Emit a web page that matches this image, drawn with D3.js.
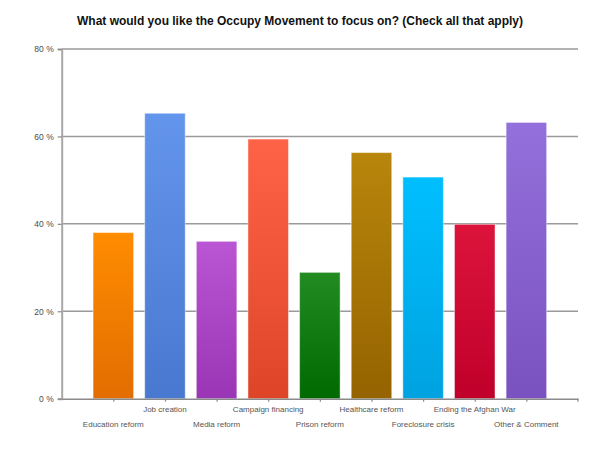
<!DOCTYPE html>
<html>
<head>
<meta charset="utf-8">
<title>Occupy Movement focus</title>
<script src="https://cdn.jsdelivr.net/npm/d3@7"></script>
<style>
  html, body { margin: 0; padding: 0; background: #ffffff; }
  #chart { width: 600px; height: 451px; }
</style>
</head>
<body>
<div id="chart"></div>
<script>
// Survey answers, percent of respondents
var categories = ['Education reform', 'Job creation', 'Media reform', 'Campaign financing', 'Prison reform',
  'Healthcare reform', 'Foreclosure crisis', 'Ending the Afghan War', 'Other & Comment'];
var values = [38.0, 65.3, 36.0, 59.4, 28.9, 56.3, 50.7, 39.9, 63.2];
var yTicks = [0, 20, 40, 60, 80];
// bar gradient colours, top -> bottom
var topColors = ['#ff8c00', '#6495ed', '#ba55d3', '#ff6347', '#228b22', '#b8860b', '#00bfff', '#dc143c', '#9370db'];
var bottomColors = ['#e36d00', '#4878d0', '#9a35b5', '#de4528', '#006a00', '#956300', '#00a2e0', '#c0002a', '#7a52c0'];

(function(){
  var W = 600, H = 451;
  var margin = { top: 49, right: 22, bottom: 52.3, left: 61.7 };
  var width = W - margin.left - margin.right;
  var height = H - margin.top - margin.bottom;
  var font = '"Liberation Sans", Arial, sans-serif';

  var svg = d3.select('#chart').append('svg')
    .attr('width', W)
    .attr('height', H)
    .style('font-family', font);

  var g = svg.append('g').attr('transform', 'translate(' + margin.left + ',' + margin.top + ')');

  // half a step of empty room at each end, like the original
  var x = d3.scalePoint().domain(categories).range([0, width]).padding(1);
  var y = d3.scaleLinear().domain([0, 80]).range([height, 0]);
  var barW = x.step() * 0.785;

  var rows = categories.map(function(c, i){ return { cat: c, val: values[i], top: topColors[i], bottom: bottomColors[i], i: i }; });

  // Gradients
  var defs = svg.append('defs');
  rows.forEach(function(d){
    var grad = defs.append('linearGradient')
      .attr('id', 'grad' + d.i)
      .attr('x1', 0).attr('y1', 0).attr('x2', 0).attr('y2', 1);
    grad.append('stop').attr('offset', '0%').attr('stop-color', d.top);
    grad.append('stop').attr('offset', '100%').attr('stop-color', d.bottom);
  });

  // Title (centred on the whole picture, not the plot)
  svg.append('text')
    .attr('x', W / 2)
    .attr('y', 25)
    .attr('text-anchor', 'middle')
    .style('font-size', '12px')
    .style('font-weight', '700')
    .style('fill', '#111')
    .text('What would you like the Occupy Movement to focus on? (Check all that apply)');

  // Horizontal gridlines
  g.append('g').attr('class', 'grid')
    .selectAll('line')
    .data(yTicks.filter(function(t){ return t > 0; }))
    .enter().append('line')
    .attr('x1', 0).attr('x2', width)
    .attr('y1', function(d){ return y(d); })
    .attr('y2', function(d){ return y(d); })
    .attr('stroke', '#9a9a9a')
    .attr('stroke-width', 1.5);

  // Bars
  g.selectAll('.bar')
    .data(rows)
    .enter().append('rect')
    .attr('class', 'bar')
    .attr('x', function(d){ return x(d.cat) - barW / 2; })
    .attr('y', function(d){ return y(d.val); })
    .attr('width', barW)
    .attr('height', function(d){ return y(0) - y(d.val); })
    .attr('fill', function(d){ return 'url(#grad' + d.i + ')'; })
    .attr('stroke', '#ffffff')
    .attr('stroke-opacity', 0.45)
    .attr('stroke-width', 1);

  // Y axis
  var ay = g.append('g')
    .call(d3.axisLeft(y).tickValues(yTicks).tickSize(4).tickPadding(4).tickFormat(function(d){ return d + ' %'; }));
  ay.select('.domain').attr('stroke', '#a8a8a8').attr('stroke-width', 2);
  ay.selectAll('line').attr('stroke', '#8a8a8a').attr('stroke-width', 1.2);
  ay.selectAll('text').style('font-family', font).style('font-size', '8.5px').style('fill', '#4a4a4a');

  // X axis (ticks only, labels staggered below)
  var ax = g.append('g')
    .attr('transform', 'translate(0,' + height + ')')
    .call(d3.axisBottom(x).tickSize(3).tickSizeOuter(0).tickFormat(''));
  ax.select('.domain').attr('stroke', '#8a8a8a').attr('stroke-width', 1.5);
  ax.selectAll('line').attr('stroke', '#8a8a8a').attr('stroke-width', 1.2);
  ax.append('line')
    .attr('x1', x.range()[1]).attr('x2', x.range()[1])
    .attr('y1', 0).attr('y2', 3)
    .attr('stroke', '#8a8a8a').attr('stroke-width', 1.2);

  g.selectAll('.xlab')
    .data(rows)
    .enter().append('text')
    .attr('class', 'xlab')
    .attr('x', function(d){ return x(d.cat); })
    .attr('y', function(d){ return height + (d.i % 2 ? 13.5 : 28); })
    .attr('text-anchor', 'middle')
    .style('font-size', '8px')
    .style('fill', '#555')
    .text(function(d){ return d.cat; });
})();
</script>
</body>
</html>
